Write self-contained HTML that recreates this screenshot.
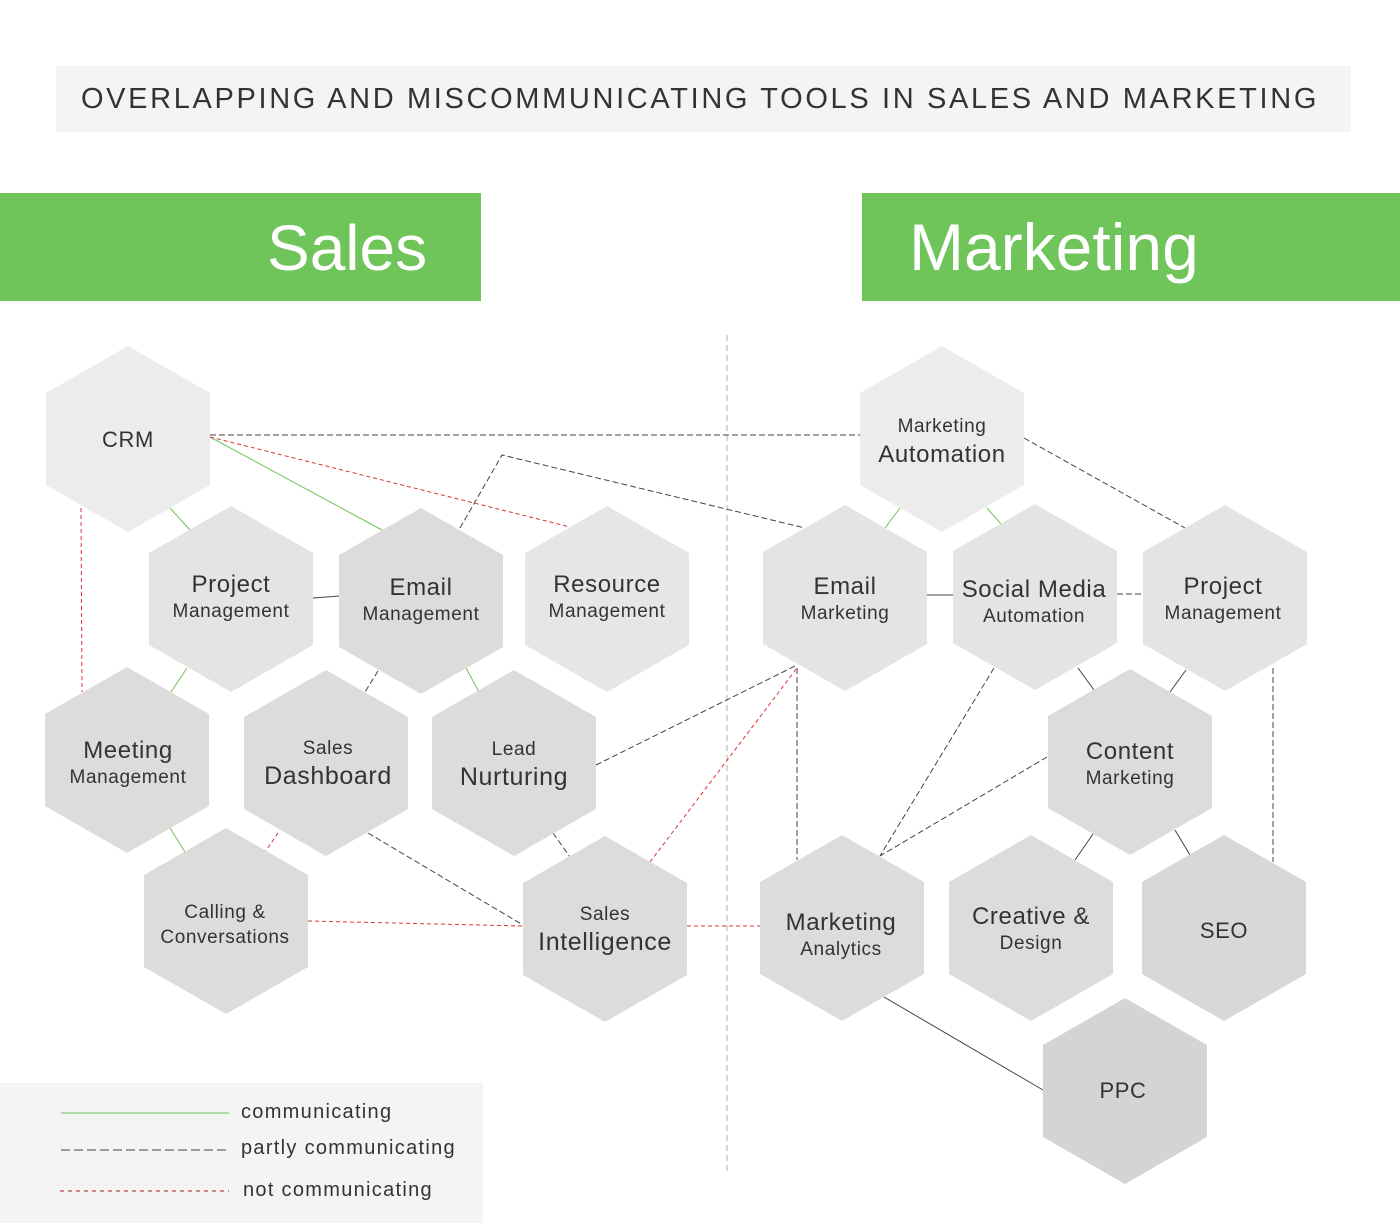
<!DOCTYPE html>
<html><head><meta charset="utf-8"><style>
html,body{margin:0;padding:0;background:#fff;}
svg{display:block;font-family:"Liberation Sans",sans-serif;}
</style></head><body>
<svg width="1400" height="1232" viewBox="0 0 1400 1232" xmlns="http://www.w3.org/2000/svg">
<rect x="56" y="66" width="1295" height="66" fill="#f4f4f4"/>
<text x="700" y="108" text-anchor="middle" font-size="29" fill="#333" letter-spacing="2.65">OVERLAPPING AND MISCOMMUNICATING TOOLS IN SALES AND MARKETING</text>
<rect x="0" y="193" width="481" height="108" fill="#6fc45a"/>
<text x="267" y="270" font-size="64" fill="#fff">Sales</text>
<rect x="862" y="193" width="538" height="108" fill="#6fc45a"/>
<text x="909" y="270" font-size="66" fill="#fff">Marketing</text>
<line x1="727" y1="335" x2="727" y2="1172" stroke="#ccc" stroke-width="1.5" stroke-dasharray="6,4"/>
<g fill="none" stroke-width="1">
<g stroke="#6fc45a">
<line x1="210" y1="437" x2="382" y2="530"/>
<line x1="170" y1="508" x2="190" y2="530"/>
<line x1="187" y1="668" x2="171" y2="692"/>
<line x1="466" y1="668" x2="479" y2="692"/>
<line x1="170" y1="828" x2="185" y2="852"/>
<line x1="900" y1="508" x2="885" y2="528"/>
<line x1="987" y1="508" x2="1001" y2="524"/>
</g>
<g stroke="#d33" stroke-dasharray="4,3">
<line x1="210" y1="437" x2="570" y2="527"/>
<line x1="81" y1="508" x2="82" y2="692"/>
<line x1="278" y1="833" x2="265" y2="852"/>
<line x1="308" y1="921" x2="523" y2="926"/>
<line x1="687" y1="926" x2="760" y2="926"/>
<line x1="650" y1="862" x2="797" y2="668"/>
</g>
<g stroke="#444" stroke-dasharray="6,3">
<line x1="210" y1="435" x2="860" y2="435"/>
<polyline points="460,528 502,455 805,528"/>
<line x1="378" y1="671" x2="365" y2="692"/>
<line x1="368" y1="833" x2="523" y2="925"/>
<line x1="553" y1="833" x2="570" y2="857"/>
<line x1="596" y1="765" x2="797" y2="665"/>
<line x1="797" y1="668" x2="797" y2="860"/>
<line x1="1024" y1="438" x2="1185" y2="528"/>
<line x1="1117" y1="594" x2="1143" y2="594"/>
<line x1="1273" y1="668" x2="1273" y2="862"/>
<line x1="994" y1="668" x2="880" y2="856"/>
<line x1="1047" y1="757" x2="880" y2="856"/>
</g>
<g stroke="#444">
<line x1="313" y1="598" x2="340" y2="596"/>
<line x1="927" y1="595" x2="953" y2="595"/>
<line x1="1078" y1="668" x2="1094" y2="690"/>
<line x1="1186" y1="670" x2="1170" y2="692"/>
<line x1="1093" y1="834" x2="1075" y2="860"/>
<line x1="1175" y1="830" x2="1190" y2="855"/>
<line x1="884" y1="997" x2="1043" y2="1090"/>
</g>
</g>
<defs><polygon id="h" points="0,-93 82,-46 82,46 0,93 -82,46 -82,-46"/></defs>
<g fill="#333" text-anchor="middle" letter-spacing="0.6">
<use href="#h" x="128" y="439" fill="#ececec"/><text x="128" y="447" font-size="22">CRM</text>
<use href="#h" x="231" y="599" fill="#e4e4e4"/><text x="231" y="592" font-size="24">Project</text><text x="231" y="617" font-size="19">Management</text>
<use href="#h" x="421" y="601" fill="#dcdcdc"/><text x="421" y="595" font-size="24">Email</text><text x="421" y="620" font-size="19">Management</text>
<use href="#h" x="607" y="599" fill="#e6e6e6"/><text x="607" y="592" font-size="24">Resource</text><text x="607" y="617" font-size="19">Management</text>
<use href="#h" x="127" y="760" fill="#dcdcdc"/><text x="128" y="758" font-size="24">Meeting</text><text x="128" y="783" font-size="19">Management</text>
<use href="#h" x="326" y="763" fill="#dcdcdc"/><text x="328" y="754" font-size="19">Sales</text><text x="328" y="784" font-size="25">Dashboard</text>
<use href="#h" x="514" y="763" fill="#dcdcdc"/><text x="514" y="755" font-size="19">Lead</text><text x="514" y="785" font-size="25">Nurturing</text>
<use href="#h" x="226" y="921" fill="#dcdcdc"/><text x="225" y="918" font-size="19">Calling &amp;</text><text x="225" y="943" font-size="19">Conversations</text>
<use href="#h" x="605" y="929" fill="#dcdcdc"/><text x="605" y="920" font-size="19">Sales</text><text x="605" y="950" font-size="25">Intelligence</text>
<use href="#h" x="942" y="439" fill="#ececec"/><text x="942" y="432" font-size="19">Marketing</text><text x="942" y="462" font-size="24">Automation</text>
<use href="#h" x="845" y="598" fill="#e4e4e4"/><text x="845" y="594" font-size="24">Email</text><text x="845" y="619" font-size="19">Marketing</text>
<use href="#h" x="1035" y="597" fill="#e4e4e4"/><text x="1034" y="597" font-size="24">Social Media</text><text x="1034" y="622" font-size="19">Automation</text>
<use href="#h" x="1225" y="598" fill="#e4e4e4"/><text x="1223" y="594" font-size="24">Project</text><text x="1223" y="619" font-size="19">Management</text>
<use href="#h" x="1130" y="762" fill="#dcdcdc"/><text x="1130" y="759" font-size="24">Content</text><text x="1130" y="784" font-size="19">Marketing</text>
<use href="#h" x="842" y="928" fill="#dcdcdc"/><text x="841" y="930" font-size="24">Marketing</text><text x="841" y="955" font-size="19">Analytics</text>
<use href="#h" x="1031" y="928" fill="#dcdcdc"/><text x="1031" y="924" font-size="24">Creative &amp;</text><text x="1031" y="949" font-size="19">Design</text>
<use href="#h" x="1224" y="928" fill="#d8d8d8"/><text x="1224" y="938" font-size="22">SEO</text>
<use href="#h" x="1125" y="1091" fill="#d4d4d4"/><text x="1123" y="1098" font-size="22">PPC</text>
</g>
<rect x="0" y="1083" width="483" height="140" fill="#f4f4f4"/>
<line x1="61" y1="1113" x2="229" y2="1113" stroke="#6fc45a" stroke-width="1"/>
<line x1="61" y1="1150" x2="229" y2="1150" stroke="#444" stroke-width="1" stroke-dasharray="9,4"/>
<line x1="60" y1="1191" x2="229" y2="1191" stroke="#a22" stroke-width="1" stroke-dasharray="4,4"/>
<g fill="#333" font-size="20" letter-spacing="1.3">
<text x="241" y="1118">communicating</text>
<text x="241" y="1154">partly communicating</text>
<text x="243" y="1196">not communicating</text>
</g>
</svg>
</body></html>
